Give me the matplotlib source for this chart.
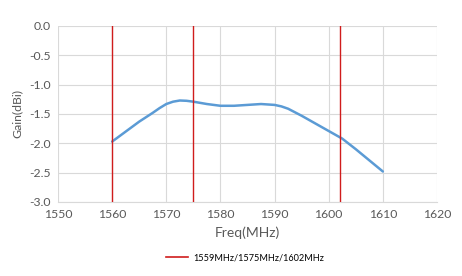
import matplotlib
matplotlib.use("Agg")
import matplotlib.pyplot as plt
from matplotlib.lines import Line2D

plt.rcParams["font.family"] = ["Lato", "DejaVu Sans"]
plt.rcParams["axes.unicode_minus"] = False

# gain curve (MHz, dBi)
freq_mhz = [1560, 1562.5, 1565, 1567.5, 1568.75, 1570, 1571.25, 1572.5, 1573.75, 1575,
            1577.5, 1580, 1582.5, 1585, 1587.5, 1590, 1591.25, 1592.5, 1595, 1597.5,
            1600, 1602.5, 1605, 1607.5, 1610]
gain_dbi = [-1.97, -1.80, -1.63, -1.48, -1.40, -1.33, -1.29, -1.27, -1.275, -1.29,
            -1.33, -1.36, -1.36, -1.345, -1.33, -1.345, -1.37, -1.41, -1.53, -1.66,
            -1.79, -1.92, -2.10, -2.29, -2.48]

# band markers as drawn
marker_mhz = [1560, 1575, 1602]
marker_label = "1559MHz/1575MHz/1602MHz"

x_ticks = [1550, 1560, 1570, 1580, 1590, 1600, 1610, 1620]
y_ticks = [0.0, -0.5, -1.0, -1.5, -2.0, -2.5, -3.0]

GRID = "#d9d9d9"
TEXT = "#595959"
BLUE = "#5b9bd5"
RED = "#d01c1c"

fig = plt.figure(figsize=(4.62, 2.76), dpi=100)
ax = fig.add_axes([58 / 462, 1 - 202 / 276, (437 - 58) / 462, (202 - 26) / 276])

ax.plot(freq_mhz, gain_dbi, color=BLUE, lw=1.8, solid_capstyle="round",
        solid_joinstyle="round", zorder=3)
for m in marker_mhz:
    ax.axvline(m, color=RED, lw=1.0, zorder=4)

ax.set_xlim(1550, 1620)
ax.set_ylim(-3.0, 0.0)
ax.set_xticks(x_ticks)
ax.set_yticks(y_ticks)
ax.set_yticklabels([f"{v:.1f}" for v in y_ticks])
ax.grid(True, color=GRID, lw=0.8)
ax.set_axisbelow(True)
for side in ("top", "right", "left"):
    ax.spines[side].set_visible(False)
ax.spines["bottom"].set_color(GRID)
ax.tick_params(length=0, labelsize=8.8, colors=TEXT, pad=5)

ax.set_xlabel("Freq(MHz)", fontsize=10, color=TEXT, labelpad=5)
ax.set_ylabel("Gain(dBi)", fontsize=8.8, color=TEXT, labelpad=5)

handle = Line2D([0], [0], color=RED, lw=1.2)
fig.legend([handle], [marker_label], loc="center", bbox_to_anchor=(0.53, 1 - 258 / 276),
           frameon=False, fontsize=6.6, handlelength=2.4, handletextpad=0.6)

fig.savefig("out.png", dpi=100)
